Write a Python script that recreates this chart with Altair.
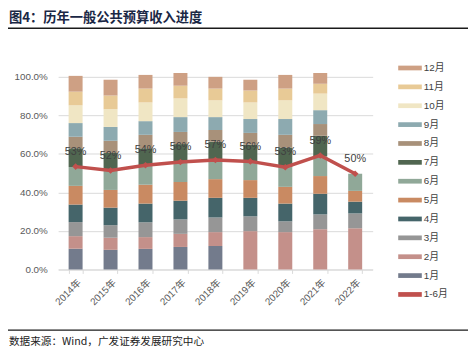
import altair as alt
import pandas as pd

years = ["2014年", "2015年", "2016年", "2017年", "2018年", "2019年", "2020年", "2021年", "2022年"]
months = ["1月", "2月", "3月", "4月", "5月", "6月", "7月", "8月", "9月", "10月", "11月", "12月"]

# monthly share of full-year budget (%)
m1 = [10.8, 10.2, 10.7, 11.7, 12.2, 0, 0, 0, 0]
m2 = [6.5, 6.3, 6.1, 6.8, 7.2, 19.9, 19.4, 20.9, 21.4]
m3 = [7.3, 6.5, 7.7, 7.5, 7.6, 7.7, 5.6, 7.7, 7.7]
m4 = [9.1, 9.1, 9.7, 9.7, 10.2, 9.6, 9.2, 10.7, 6.1]
m5 = [9.7, 9.2, 9.8, 9.7, 9.7, 9.2, 8.7, 9.2, 5.6]
m6 = [9.8, 10.0, 9.8, 10.2, 9.7, 9.9, 10.2, 10.4, 8.9]
m7 = [9.7, 9.2, 9.1, 9.5, 9.7, 8.5, 10.2, 10.5, None]
m8 = [6.0, 6.3, 7.0, 6.3, 6.1, 6.1, 6.6, 6.1, None]
m9 = [7.1, 7.2, 7.1, 7.7, 6.7, 7.2, 8.2, 7.2, None]
m10 = [9.2, 9.2, 9.7, 9.7, 8.7, 8.6, 9.7, 8.6, None]
m11 = [7.1, 7.1, 7.2, 6.6, 6.1, 6.2, 6.1, 5.1, None]
m12 = [8.2, 8.2, 7.1, 6.6, 6.1, 5.6, 7.1, 5.6, None]

h1 = [53.4, 51.4, 54.1, 55.8, 56.8, 56.1, 53.1, 59.2, 49.7]
h1_labels = ["53%", "52%", "54%", "56%", "57%", "56%", "53%", "59%", "50%"]

colors = ["#737B8C", "#C4908A", "#969696", "#45656A", "#C98A62", "#90A898",
          "#506650", "#A8917A", "#8DAAB0", "#F0E6C4", "#E8CA96", "#CEA084"]
line_color = "#C0504D"
y_ticks = [0, 0.2, 0.4, 0.6, 0.8, 1.0]

series = [m1, m2, m3, m4, m5, m6, m7, m8, m9, m10, m11, m12]
rows = []
for mi, (m, vals) in enumerate(zip(months, series)):
    for y, v in zip(years, vals):
        if v is None:
            continue
        rows.append({"year": y, "month": m, "idx": mi, "v": v / 100})
bars_df = pd.DataFrame(rows)
line_df = pd.DataFrame({"year": years, "v": [x / 100 for x in h1], "lab": h1_labels, "s": "1-6月"})

domain = months[::-1] + ["1-6月"]
rng = colors[::-1] + [line_color]
FONT = "Liberation Sans, Noto Sans CJK SC"

xaxis = alt.Axis(labelAngle=-45, labelFontSize=10, labelColor="#595959", labelFont=FONT,
                 domainColor="#D9D9D9", tickColor="#D9D9D9", tickSize=4, tickBand="extent",
                 labelPadding=4, grid=False)
yaxis = alt.Axis(format=".1%", values=y_ticks, labelFontSize=10, labelColor="#595959",
                 labelFont=FONT, domain=False, ticks=False, gridColor="#D9D9D9",
                 labelPadding=11, labelOverlap=False)
xscale = alt.Scale(paddingInner=0.6, paddingOuter=0.3)
yscale = alt.Scale(domain=[0, 1], nice=False)

color = alt.Color("series:N", scale=alt.Scale(domain=domain, range=rng),
                  legend=alt.Legend(title=None, orient="none", legendX=353, legendY=-14,
                                    symbolType="M-3,-0.6H3V0.6H-3Z", symbolSize=64,
                                    symbolStrokeWidth=0, symbolOpacity=1,
                                    labelFontSize=10, labelColor="#404040", labelFont=FONT,
                                    rowPadding=9.2, labelOffset=9))

bars = alt.Chart(bars_df).transform_calculate(series="datum.month").mark_bar().encode(
    x=alt.X("year:N", sort=years, title=None, scale=xscale, axis=xaxis),
    y=alt.Y("v:Q", stack="zero", scale=yscale, title=None, axis=yaxis),
    color=color,
    order=alt.Order("idx:Q", sort="ascending"),
)

line = alt.Chart(line_df).mark_line(
    strokeWidth=3.5,
    point=alt.OverlayMarkDef(shape="diamond", size=45, filled=True, color=line_color),
).encode(
    x=alt.X("year:N", sort=years, title=None, axis=xaxis),
    y=alt.Y("v:Q", scale=yscale, title=None, axis=yaxis),
    color=alt.Color("s:N", scale=alt.Scale(domain=domain, range=rng), legend=None),
)

labels = alt.Chart(line_df).mark_text(dy=-15, fontSize=11, color="#404040", font=FONT).encode(
    x=alt.X("year:N", sort=years, title=None, axis=xaxis),
    y=alt.Y("v:Q", scale=yscale, title=None, axis=yaxis),
    text="lab:N",
)

title = alt.Chart(pd.DataFrame({"t": ["图4：历年一般公共预算收入进度"]})).mark_text(
    align="left", baseline="middle", fontSize=13.5, fontWeight="bold", color="#1A2745",
    font="Noto Sans CJK SC").encode(x=alt.value(-50), y=alt.value(-60), text="t:N")

source = alt.Chart(pd.DataFrame({"t": ["数据来源：Wind，广发证券发展研究中心"]})).mark_text(
    align="left", baseline="middle", fontSize=10.8, color="#222222",
    font="Noto Sans CJK SC").encode(x=alt.value(-50), y=alt.value(269.5), text="t:N")

rule_top = alt.Chart(pd.DataFrame({"a": [0]})).mark_rule(color="#1A1A1A", strokeWidth=1.5).encode(
    x=alt.value(-51), x2=alt.value(417), y=alt.value(-49.5))
rule_bot = alt.Chart(pd.DataFrame({"a": [0]})).mark_rule(color="#1A1A1A", strokeWidth=1.2).encode(
    x=alt.value(-51), x2=alt.value(417), y=alt.value(257.7))

chart = alt.layer(bars, line, labels, title, source, rule_top, rule_bot).properties(
    width=320, height=196,
    autosize=alt.AutoSizeParams(type="none"),
    padding={"left": 51, "top": 67, "right": 97, "bottom": 86},
).configure_view(stroke=None).configure_legend(symbolStrokeWidth=0).configure_axisY(labelOverlap=False)

chart.save("out.html", embed_options={"renderer": "svg", "actions": False})
